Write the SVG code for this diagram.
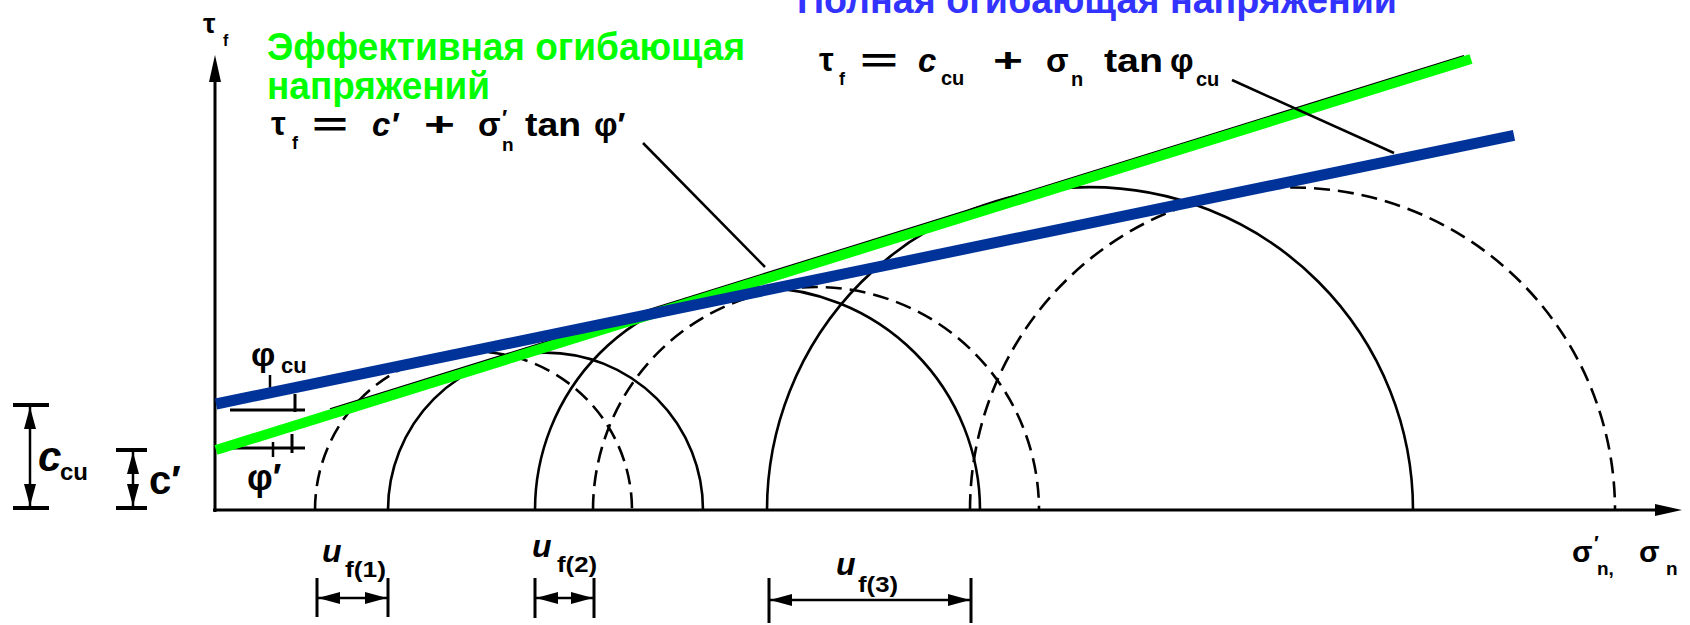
<svg xmlns="http://www.w3.org/2000/svg" width="1690" height="625" viewBox="0 0 1690 625">
<defs>
<style>
.ax{stroke:#000;stroke-width:3;fill:none}
.sc{stroke:#000;stroke-width:2.6;fill:none}
.dc{stroke:#000;stroke-width:2.6;fill:none;stroke-dasharray:16 8}
.ln{stroke:#000;stroke-width:2.5;fill:none}
.bar{stroke:#000;stroke-width:4;fill:none}
.t{font-family:"Liberation Sans",Arial,sans-serif;font-weight:bold;fill:#000}
.i{font-style:italic}
.gt{font-family:"Liberation Sans",Arial,sans-serif;font-weight:bold;fill:#00ff00;font-size:38px}
.bt{font-family:"Liberation Sans",Arial,sans-serif;font-weight:bold;fill:#3333ff;font-size:39px}
</style>
<marker id="ah" markerUnits="userSpaceOnUse" markerWidth="22" markerHeight="12" refX="22" refY="6" orient="auto-start-reverse"><path d="M0,0 L22,6 L0,12 z" fill="#000"/></marker>
</defs>
<rect width="1690" height="625" fill="#fff"/>

<g id="axes">
<path class="ax" d="M215,78 V512 M213,510 H1660"/>
<polygon points="215,55 209,82 221,82" fill="#000"/>
<polygon points="1682,510 1655,504 1655,516" fill="#000"/>
</g>

<g id="circles">
<path id="S1" class="sc" d="M388,510 A157.5,157.5 0 0 1 703,510"/>
<path id="S2" class="sc" d="M535,510 A222.5,222.5 0 0 1 980,510"/>
<path id="S3" class="sc" d="M767,510 A323,323 0 0 1 1413,510"/>
<path id="D1" class="dc" d="M315,510 A158.5,158.5 0 0 1 632,510"/>
<path id="D2" class="dc" d="M593,510 A223,223 0 0 1 1039,510"/>
<path id="D3" class="dc" d="M970,510 A322.5,322.5 0 0 1 1615,510"/>
</g>

<g id="angle-marks">
<path class="ax" d="M230,410 H305 M295,394 V412 M233,448 H305 M292,434 V453"/>
<path class="ln" d="M270,375 V398 M273,442 V457"/>
</g>

<g id="envelopes">
<line x1="330" y1="409" x2="1464" y2="55.7" stroke="#000" stroke-width="1.6"/>
<line id="effective-envelope" x1="216" y1="450" x2="1471" y2="59" stroke="#00ff00" stroke-width="10"/>
<line id="total-envelope" x1="216" y1="404" x2="1514" y2="135.3" stroke="#003399" stroke-width="11"/>
</g>

<g id="connectors">
<line class="ln" x1="643" y1="143" x2="765" y2="267"/>
<line class="ln" x1="1232" y1="80" x2="1394" y2="153"/>
</g>

<g id="dimensions">
<path class="bar" d="M13,405 H49 M13,508 H49 M116,450 H147 M116,508 H147"/>
<line class="ln" x1="30" y1="407" x2="30" y2="506" marker-start="url(#ah)" marker-end="url(#ah)"/>
<line class="ln" x1="133" y1="452" x2="133" y2="506" marker-start="url(#ah)" marker-end="url(#ah)"/>
<path class="ax" d="M317,578 V617 M388,578 V617 M535,578 V618 M594,578 V618 M769,578 V623 M971,578 V623"/>
<line class="ln" x1="318" y1="598" x2="387" y2="598" marker-start="url(#ah)" marker-end="url(#ah)"/>
<line class="ln" x1="536" y1="598" x2="593" y2="598" marker-start="url(#ah)" marker-end="url(#ah)"/>
<line class="ln" x1="770" y1="600" x2="970" y2="600" marker-start="url(#ah)" marker-end="url(#ah)"/>
</g>

<g id="labels">
<text class="t" x="203" y="33" font-size="28">τ</text>
<text class="t" x="223" y="46" font-size="16">f</text>

<text class="gt" x="267" y="60" textLength="478" lengthAdjust="spacingAndGlyphs">Эффективная огибающая</text>
<text class="gt" x="267" y="99" textLength="223" lengthAdjust="spacingAndGlyphs">напряжений</text>
<text class="bt" x="797" y="13" textLength="600" lengthAdjust="spacingAndGlyphs">Полная огибающая напряжений</text>

<g id="eq-effective" class="t">
<text x="271" y="135" font-size="33">τ</text>
<text x="292" y="149" font-size="18">f</text>
<text x="312" y="136" font-size="33" textLength="36" lengthAdjust="spacingAndGlyphs">=</text>
<text class="i" x="372" y="136" font-size="33">c′</text>
<text x="424" y="136" font-size="33" textLength="31" lengthAdjust="spacingAndGlyphs">+</text>
<text x="478" y="136" font-size="33">σ</text>
<text x="502" y="125" font-size="22">′</text>
<text x="502" y="151" font-size="19">n</text>
<text x="525" y="136" font-size="33" textLength="56" lengthAdjust="spacingAndGlyphs">tan</text>
<text x="594" y="136" font-size="33">φ′</text>
</g>

<g id="eq-total" class="t">
<text x="819" y="71" font-size="33">τ</text>
<text x="839" y="85" font-size="18">f</text>
<text x="860" y="72" font-size="33" textLength="38" lengthAdjust="spacingAndGlyphs">=</text>
<text class="i" x="918" y="72" font-size="33">c</text>
<text x="941" y="85" font-size="20">cu</text>
<text x="993" y="72" font-size="33" textLength="30" lengthAdjust="spacingAndGlyphs">+</text>
<text x="1046" y="72" font-size="33">σ</text>
<text x="1071" y="86" font-size="20">n</text>
<text x="1104" y="72" font-size="33" textLength="59" lengthAdjust="spacingAndGlyphs">tan</text>
<text x="1170" y="72" font-size="33">φ</text>
<text x="1196" y="86" font-size="20">cu</text>
</g>

<text class="t i" x="38" y="471" font-size="42">c</text>
<text class="t" x="60" y="480" font-size="24">cu</text>
<text class="t" x="149" y="494" font-size="40">c′</text>
<text class="t" x="251" y="366" font-size="34">φ</text>
<text class="t" x="281" y="373" font-size="22">cu</text>
<text class="t" x="247" y="490" font-size="36">φ′</text>

<text class="t i" x="322" y="562" font-size="32">u</text>
<text class="t" x="345" y="577" font-size="22" textLength="41" lengthAdjust="spacingAndGlyphs">f(1)</text>
<text class="t i" x="532" y="557" font-size="32">u</text>
<text class="t" x="557" y="572" font-size="22" textLength="40" lengthAdjust="spacingAndGlyphs">f(2)</text>
<text class="t i" x="836" y="575" font-size="32">u</text>
<text class="t" x="858" y="592" font-size="22" textLength="40" lengthAdjust="spacingAndGlyphs">f(3)</text>

<text class="t" x="1572" y="562" font-size="30">σ</text>
<text class="t" x="1594" y="550" font-size="20">′</text>
<text class="t" x="1597" y="575" font-size="19">n,</text>
<text class="t" x="1639" y="562" font-size="30">σ</text>
<text class="t" x="1666" y="575" font-size="19">n</text>
</g>
</svg>
